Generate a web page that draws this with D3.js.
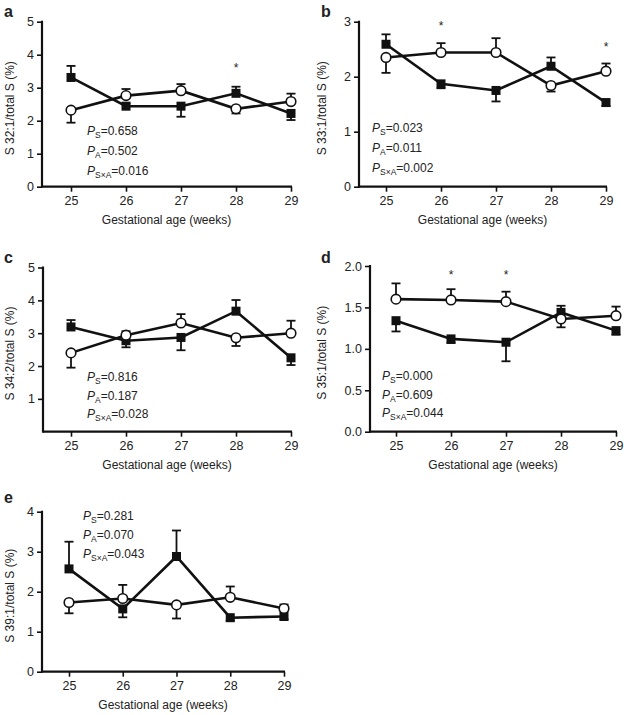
<!DOCTYPE html>
<html><head><meta charset="utf-8">
<script src="https://cdn.jsdelivr.net/npm/d3@7"></script>
<style>body{margin:0;background:#fff}svg{display:block}text{font-family:"Liberation Sans",Arial,sans-serif;fill:#222}</style>
</head><body>
<script>
const weeks = [25, 26, 27, 28, 29];
const panelLabels = ["a", "b", "c", "d", "e"];
const yTitles = ["S 32:1/total S (%)", "S 33:1/total S (%)", "S 34:2/total S (%)", "S 35:1/total S (%)", "S 39:1/total S (%)"];
const yMax = [5, 3, 5, 2, 4];
const yTicks = [[0,1,2,3,4,5],[0,1,2,3],[1,2,3,4,5],[0,0.5,1,1.5,2],[0,1,2,3,4]];
// filled squares (mean, signed error: + up, - down)
const filledA = [3.31, 2.44, 2.44, 2.83, 2.22];
const filledErrA = [0.35, 0.08, -0.32, 0.2, -0.2];
const openA = [2.32, 2.76, 2.91, 2.36, 2.58];
const openErrA = [-0.38, 0.2, 0.2, -0.14, 0.24];
const filledB = [2.59, 1.87, 1.75, 2.19, 1.53];
const filledErrB = [0.18, -0.08, -0.2, 0.16, -0.06];
const openB = [2.35, 2.44, 2.44, 1.84, 2.10];
const openErrB = [-0.28, 0.17, 0.26, -0.11, 0.14];
const filledC = [3.19, 2.77, 2.87, 3.67, 2.25];
const filledErrC = [0.21, -0.2, -0.39, 0.34, -0.22];
const openC = [2.40, 2.94, 3.31, 2.86, 3.00];
const openErrC = [-0.45, 0.12, 0.27, -0.25, 0.38];
const filledD = [1.34, 1.12, 1.08, 1.44, 1.22];
const filledErrD = [-0.13, -0.05, -0.23, 0.08, -0.05];
const openD = [1.60, 1.59, 1.57, 1.36, 1.40];
const openErrD = [0.19, 0.13, 0.12, -0.10, 0.11];
const filledE = [2.57, 1.57, 2.88, 1.35, 1.38];
const filledErrE = [0.68, -0.21, 0.65, -0.07, -0.07];
const openE = [1.73, 1.83, 1.67, 1.86, 1.58];
const openErrE = [-0.27, 0.34, -0.34, 0.27, 0.10];
const pS = ["0.658", "0.023", "0.816", "0.000", "0.281"];
const pA = ["0.502", "0.011", "0.187", "0.609", "0.070"];
const pSA = ["0.016", "0.002", "0.028", "0.044", "0.043"];
const starWeeks = [[28], [26, 29], [], [26, 27], []];
const starVals = [[3.66], [2.96, 2.58], [], [1.92, 1.92], []];

const filled = [filledA, filledB, filledC, filledD, filledE];
const filledErr = [filledErrA, filledErrB, filledErrC, filledErrD, filledErrE];
const open = [openA, openB, openC, openD, openE];
const openErr = [openErrA, openErrB, openErrC, openErrD, openErrE];

// layout
const geo = [
  {ax: 42, top: 21.7, bot: 186.7, x0: 71, x1: 291, lx: 4, ly: 17, px: 87, py: 130, tx: 14},
  {ax: 359, top: 21.7, bot: 186.7, x0: 386, x1: 606, lx: 321, ly: 17, px: 372, py: 127, tx: 326},
  {ax: 43, top: 267.5, bot: 431.7, x0: 71, x1: 291, lx: 4, ly: 263, px: 87, py: 376.5, tx: 14},
  {ax: 370, top: 266, bot: 431.7, x0: 396, x1: 616, lx: 321, ly: 263, px: 382, py: 375.5, tx: 326},
  {ax: 42, top: 511.7, bot: 671.7, x0: 69, x1: 284, lx: 4, ly: 503, px: 83, py: 515, tx: 14}
];
const pGap = [20, 20, 18.5, 18.5, 19];

const svg = d3.select("body").append("svg").attr("width", 624).attr("height", 715);

geo.forEach((g, i) => {
  const x = d3.scaleLinear().domain([25, 29]).range([g.x0, g.x1]);
  const y = d3.scaleLinear().domain([0, yMax[i]]).range([g.bot, g.top]);
  const G = svg.append("g");
  const fmt = i === 3 ? d3.format(".1f") : d3.format("d");

  // y axis
  const ya = G.append("g").attr("transform", `translate(${g.ax},0)`)
    .call(d3.axisLeft(y).tickValues(yTicks[i]).tickFormat(fmt).tickSize(5).tickSizeOuter(0));
  ya.select(".domain").remove();
  ya.append("line").attr("x1", 0).attr("x2", 0).attr("y1", g.top - 1).attr("y2", g.bot + 1)
    .attr("stroke", "#111").attr("stroke-width", 2.2);
  ya.selectAll(".tick line").attr("stroke", "#111").attr("stroke-width", 1.6);
  ya.selectAll(".tick text").attr("font-size", 12.5).attr("x", -8).style("font-family", '"Liberation Sans",Arial,sans-serif').attr("fill", "#222");

  // x axis
  const xa = G.append("g").attr("transform", `translate(0,${g.bot})`)
    .call(d3.axisBottom(x).tickValues(weeks).tickFormat(d3.format("d")).tickSize(5).tickSizeOuter(0));
  xa.select(".domain").remove();
  xa.append("line").attr("x1", g.ax).attr("x2", g.x1 + 1).attr("y1", 0).attr("y2", 0)
    .attr("stroke", "#111").attr("stroke-width", 2.2);
  xa.selectAll(".tick line").attr("stroke", "#111").attr("stroke-width", 1.6);
  xa.selectAll(".tick text").attr("font-size", 12.5).attr("y", 9).style("font-family", '"Liberation Sans",Arial,sans-serif').attr("fill", "#222");

  // axis titles
  G.append("text").attr("x", (g.ax + g.x1) / 2).attr("y", g.bot + 37)
    .attr("text-anchor", "middle").attr("font-size", 12).text("Gestational age (weeks)");
  G.append("text").attr("transform", `translate(${g.tx},${(g.top + g.bot) / 2 + 4}) rotate(-90)`)
    .attr("text-anchor", "middle").attr("font-size", 12).text(yTitles[i]);
  // panel label
  G.append("text").attr("x", g.lx).attr("y", g.ly).attr("font-size", 16).attr("font-weight", "bold")
    .attr("fill", "#000").text(panelLabels[i]);

  const line = d3.line().x((d, k) => x(weeks[k])).y(d => y(d));

  function drawSeries(vals, errs, isFilled) {
    const s = G.append("g");
    // error bars
    vals.forEach((v, k) => {
      const e = errs[k];
      const cx = x(weeks[k]);
      s.append("line").attr("x1", cx).attr("x2", cx).attr("y1", y(v)).attr("y2", y(v + e))
        .attr("stroke", "#111").attr("stroke-width", 1.8);
      s.append("line").attr("x1", cx - 4.5).attr("x2", cx + 4.5).attr("y1", y(v + e)).attr("y2", y(v + e))
        .attr("stroke", "#111").attr("stroke-width", 1.8);
    });
    s.append("path").datum(vals).attr("d", line).attr("fill", "none")
      .attr("stroke", "#111").attr("stroke-width", 2.6).attr("stroke-linejoin", "miter");
    return s;
  }
  const sf = drawSeries(filled[i], filledErr[i], true);
  const so = drawSeries(open[i], openErr[i], false);
  sf.selectAll("rect.m").data(filled[i]).join("rect").attr("class", "m")
    .attr("x", (d, k) => x(weeks[k]) - 4.5).attr("y", d => y(d) - 4.5)
    .attr("width", 9).attr("height", 9).attr("fill", "#111");
  so.selectAll("circle.m").data(open[i]).join("circle").attr("class", "m")
    .attr("cx", (d, k) => x(weeks[k])).attr("cy", d => y(d)).attr("r", 4.8)
    .attr("fill", "#fff").attr("stroke", "#111").attr("stroke-width", 1.6);

  // stars
  starWeeks[i].forEach((w, k) => {
    G.append("text").attr("x", x(w)).attr("y", y(starVals[i][k]) + 6).attr("text-anchor", "middle")
      .attr("font-size", 12).text("*");
  });

  // p-values
  const ps = [["S", pS[i]], ["A", pA[i]], ["S\u00d7A", pSA[i]]];
  ps.forEach((p, k) => {
    const t = G.append("text").attr("x", g.px).attr("y", g.py + k * pGap[i] + 4.5).attr("font-size", 12);
    t.append("tspan").attr("font-style", "italic").text("P");
    t.append("tspan").attr("font-size", 8.5).attr("dy", 3).text(p[0]);
    t.append("tspan").attr("dy", -3).text("=" + p[1]);
  });
});
</script>
</body></html>
